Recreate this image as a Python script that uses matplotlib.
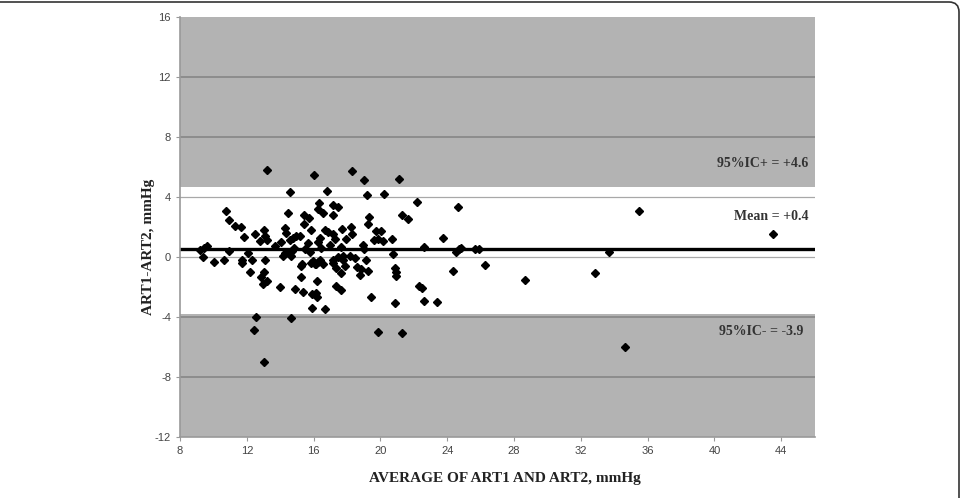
import matplotlib.pyplot as plt
import matplotlib.patches as mpatches
from matplotlib.transforms import IdentityTransform

plt.rcParams['axes.unicode_minus'] = False

# Bland-Altman data: average (x) and difference (y)
avg = [9.2, 9.45, 9.6, 9.39, 10.05, 10.65, 10.73, 10.94, 10.9, 11.28,
       11.64, 11.82, 11.72, 11.72, 12.08, 12.28, 12.18, 12.48, 12.8, 13.01,
       13.07, 13.18, 13.07, 13.01, 12.84, 13.18, 12.97, 13.18, 12.54, 12.42,
       13.01, 13.67, 14.07, 14.0, 14.27, 14.37, 14.47, 14.57, 14.27, 14.17,
       14.67, 14.6, 14.77, 14.97, 14.7, 14.85, 14.63, 14.87, 15.36, 15.26,
       15.26, 15.16, 15.46, 15.45, 15.4, 15.72, 15.66, 15.8, 15.86, 15.33,
       15.86, 16.06, 16.26, 16.56, 16.2, 15.92, 16.2, 16.16, 15.92, 16.66,
       16.0, 16.3, 16.26, 16.56, 16.36, 16.26, 16.46, 16.66, 16.85, 16.8,
       16.96, 17.15, 17.45, 17.15, 17.15, 17.25, 17.15, 17.45, 17.75, 17.15,
       17.35, 17.65, 17.85, 17.35, 17.65, 17.7, 17.64, 17.94, 17.75, 18.15,
       18.25, 18.3, 18.29, 18.45, 18.84, 18.75, 18.95, 19.04, 18.99, 19.15,
       19.24, 19.2, 19.3, 19.24, 19.44, 19.74, 20.04, 19.84, 20.14, 19.64,
       19.84, 20.2, 20.67, 20.74, 20.84, 20.9, 20.9, 20.84, 21.13, 21.27,
       21.63, 21.29, 22.2, 22.33, 22.49, 22.6, 22.63, 23.4, 23.72, 24.32,
       24.52, 24.72, 24.66, 25.67, 25.91, 26.27, 28.66, 32.85, 33.7, 34.67,
       35.5, 43.5, 18.6, 24.8, 15.95, 16.15, 16.4]
diff = [0.45, 0.6, 0.75, 0.0, -0.35, -0.21, 3.08, 2.44, 0.43, 2.04,
        1.97, 1.33, -0.21, -0.43, 0.27, -0.21, -1.01, 1.53, 1.07, 1.77,
        1.43, 1.15, -0.17, -1.01, -1.35, -1.61, -1.83, 5.77, -4.01, -4.88,
        -7.01, 0.75, 1.0, -1.99, 1.93, 1.6, 2.93, 4.33, 0.27, 0.05,
        0.05, 1.15, 1.27, 1.37, 0.4, 0.62, -4.1, -2.12, -2.32, -0.61,
        -1.35, 1.39, 0.55, 2.83, 2.2, 2.61, 0.95, 0.3, 1.83, -0.5,
        -0.39, -0.5, -0.32, -0.5, -1.61, -2.45, -2.68, -2.39, -3.39, -3.5,
        5.45, 3.61, 3.23, 2.95, 1.28, 0.99, 0.61, 1.83, 1.65, 4.39,
        0.77, 3.45, 3.32, 2.83, 1.5, 1.17, -0.17, -0.01, -0.17, -0.39,
        -0.72, -1.06, -0.61, -1.94, -2.17, 1.88, 0.68, 1.17, 0.05, 0.05,
        1.99, 1.5, 5.72, -0.06, -0.83, -1.17, 0.77, 0.55, 5.12, -0.17,
        -0.94, 4.1, 2.65, 2.21, -2.65, 1.72, 1.72, 1.17, 1.05, 1.1,
        -4.99, 4.19, 1.21, 0.17, -0.72, -0.99, -1.28, -3.1, 5.21, 2.83,
        2.55, -5.08, 3.68, -1.94, -2.1, -2.93, 0.68, -2.98, 1.28, -0.95,
        0.32, 0.5, 3.32, 0.5, 0.5, -0.55, -1.55, -1.05, 0.35, -5.99,
        3.05, 1.55, -0.65, 0.62, -0.3, -0.45, -0.2]

mean_line = 0.55
upper_limit = 4.65
lower_limit = -3.77
x_ticks = [8, 12, 16, 20, 24, 28, 32, 36, 40, 44]
y_ticks = [-12, -8, -4, 0, 4, 8, 12, 16]

band = '#b3b3b3'
serif = 'Liberation Serif'

fig = plt.figure(figsize=(9.63, 4.98), dpi=100)
ax = fig.add_axes([0.187, 0.1225, 0.659, 0.8435])
ax.set_xlim(8, 46)
ax.set_ylim(-12, 16)

# shaded zones outside the limits of agreement
ax.axhspan(upper_limit, 16, color=band, zorder=0, lw=0)
ax.axhspan(-12, lower_limit, color=band, zorder=0, lw=0)

# gridlines, darker where they fall in the grey zones
for v in y_ticks[1:-1]:
    if v > upper_limit or v < lower_limit:
        ax.axhline(v, color='#8a8a8a', lw=1.3, zorder=1)
    else:
        ax.axhline(v, color='#a8a8a8', lw=0.9, zorder=1)

ax.axhline(mean_line, color='black', lw=2.4, zorder=2)
ax.plot(avg, diff, 'D', color='black', ms=3.9, zorder=3)

ax.set_xticks(x_ticks)
ax.set_yticks(y_ticks)
ax.tick_params(labelsize=8, labelcolor='#444444', color='#999999', length=3)
for lab in ax.get_xticklabels() + ax.get_yticklabels():
    lab.set_family('Liberation Sans')
for s in ['top', 'right']:
    ax.spines[s].set_visible(False)
for s in ['left', 'bottom']:
    ax.spines[s].set_color('#999999')
    ax.spines[s].set_linewidth(1.2)

ax.text(45.6, 6.2, '95%IC+ = +4.6', ha='right', va='center', family=serif,
        weight='bold', fontsize=10, color='#333333')
ax.text(45.6, 2.73, 'Mean = +0.4', ha='right', va='center', family=serif,
        weight='bold', fontsize=10, color='#333333')
ax.text(45.3, -5.0, '95%IC- = -3.9', ha='right', va='center', family=serif,
        weight='bold', fontsize=10, color='#333333')

fig.text(0.524, 0.04, 'AVERAGE OF ART1 AND ART2, mmHg', ha='center', va='center',
         family=serif, weight='bold', fontsize=11, color='#222222')
fig.text(0.154, 0.504, 'ART1-ART2, mmHg', ha='center', va='center', rotation=90,
         family=serif, weight='bold', fontsize=11, color='#222222')

# page frame with a rounded corner at the top right
frame = mpatches.FancyBboxPatch((-30, -30), 989, 526,
                                boxstyle='round,pad=0,rounding_size=10',
                                transform=IdentityTransform(), fill=False,
                                ec='#333333', lw=1.2)
fig.patches.append(frame)

fig.savefig('out.png', dpi=100)
